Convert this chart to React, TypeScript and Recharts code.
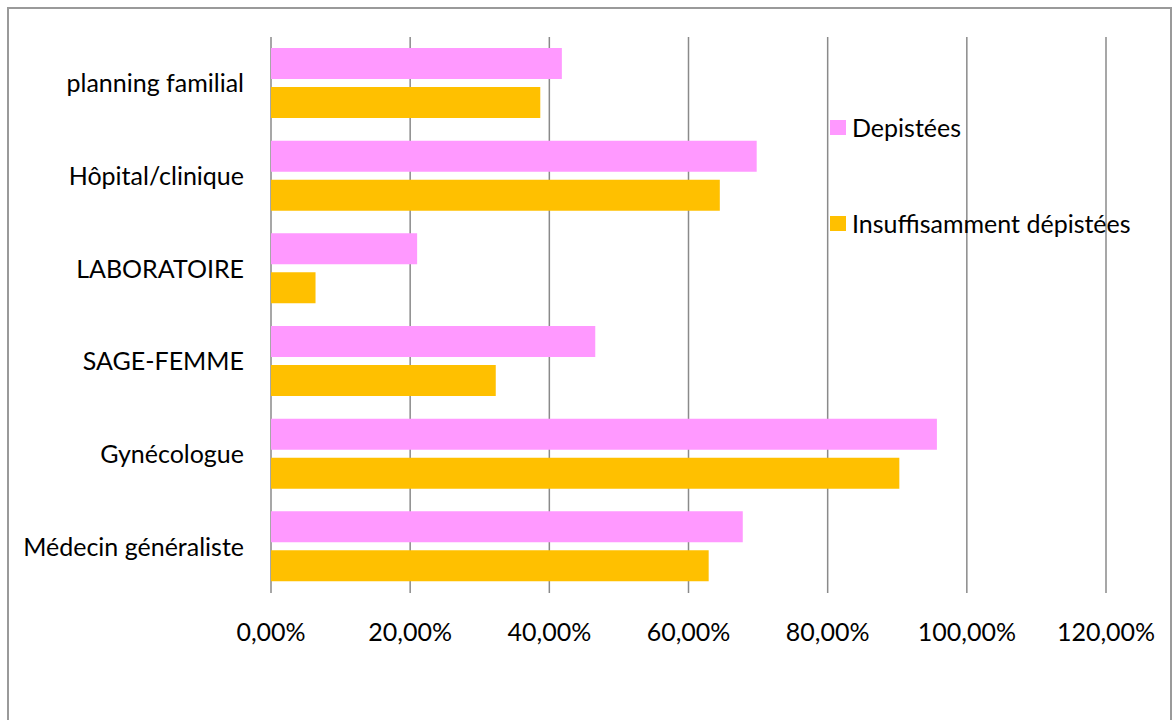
import { BarChart, Bar, XAxis, YAxis, CartesianGrid, Legend } from 'recharts';

const categories = [
  'planning familial',
  'Hôpital/clinique',
  'LABORATOIRE',
  'SAGE-FEMME',
  'Gynécologue',
  'Médecin généraliste',
];
const depistees = [41.8, 69.8, 21.0, 46.6, 95.7, 67.8];
const insuffisamment = [38.7, 64.5, 6.4, 32.3, 90.3, 62.9];
const xTicks = [0, 20, 40, 60, 80, 100, 120];

const PINK = '#FF99FF';
const ORANGE = '#FFC000';
const FONT = 'Lato, "Noto Sans", sans-serif';
const FS = 25;

const data = categories.map((name, i) => ({
  name,
  dep: depistees[i],
  ins: insuffisamment[i],
}));

const fmt = (v: number) => `${v.toFixed(2).replace('.', ',')}%`;

const LegendBox = () => (
  <div style={{ fontFamily: FONT, fontSize: FS, color: '#000', textAlign: 'left' }}>
    {[
      { label: 'Depistées', color: PINK },
      { label: 'Insuffisamment dépistées', color: ORANGE },
    ].map((item, i) => (
      <div
        key={item.label}
        style={{ display: 'flex', alignItems: 'center', height: 30, marginBottom: i === 0 ? 66 : 0 }}
      >
        <span style={{ width: 16, height: 15, background: item.color, marginRight: 6, display: 'inline-block' }} />
        <span style={{ lineHeight: 1 }}>{item.label}</span>
      </div>
    ))}
  </div>
);

const App = () => {
  return (
    <div style={{ position: 'absolute', left: 0, top: 0, width: 1174, height: 720, background: '#fff', overflow: 'hidden' }}>
      <div
        style={{
          position: 'absolute',
          left: 7,
          top: 7,
          width: 1165,
          height: 740,
          border: '2px solid #9a9a9a',
          boxSizing: 'border-box',
        }}
      />
      <BarChart
        layout="vertical"
        width={1174}
        height={720}
        data={data}
        margin={{ top: 37, right: 68, bottom: 67, left: 0 }}
        barSize={31}
        barGap={8}
      >
        <CartesianGrid horizontal={false} stroke="#8a8a8a" strokeWidth={1.5} />
        <XAxis
          type="number"
          domain={[0, 120]}
          ticks={xTicks}
          tickFormatter={fmt}
          axisLine={false}
          tickLine={false}
          tickSize={0}
          tickMargin={30}
          height={60}
          interval={0}
          tick={{ fill: '#000', fontSize: FS, fontFamily: FONT }}
        />
        <YAxis
          type="category"
          dataKey="name"
          width={271}
          axisLine={false}
          tickLine={false}
          tickSize={0}
          tickMargin={27}
          interval={0}
          tick={{ fill: '#000', fontSize: FS, fontFamily: FONT }}
        />
        <Legend
          layout="vertical"
          verticalAlign="middle"
          align="center"
          wrapperStyle={{ top: 112, left: 830, width: 340 }}
          content={() => <LegendBox />}
        />
        <Bar dataKey="dep" name="Depistées" fill={PINK} isAnimationActive={false} />
        <Bar dataKey="ins" name="Insuffisamment dépistées" fill={ORANGE} isAnimationActive={false} />
      </BarChart>
    </div>
  );
};

export default App;
